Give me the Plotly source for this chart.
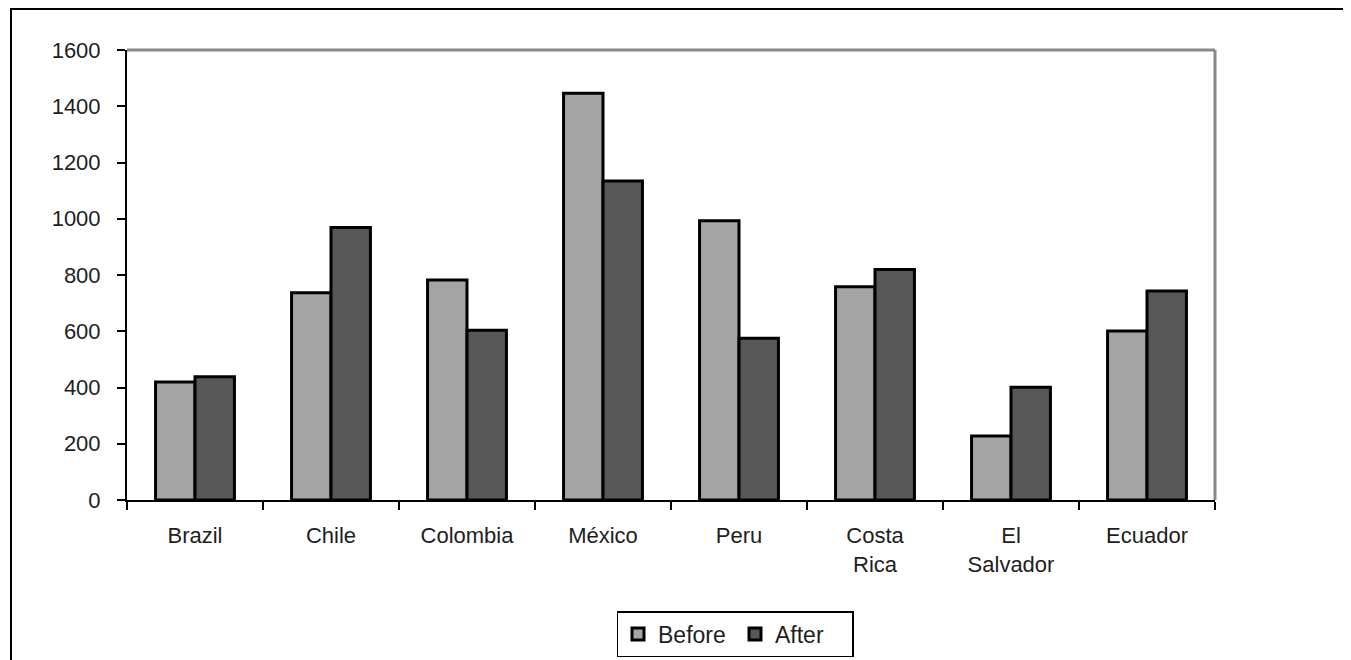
import plotly.graph_objects as go

categories = ["Brazil", "Chile", "Colombia", "México", "Peru", "Costa<br>Rica", "El<br>Salvador", "Ecuador"]
before = [420, 737, 782, 1446, 993, 758, 228, 601]
after = [438, 969, 604, 1134, 575, 820, 401, 743]
y_ticks = [0, 200, 400, 600, 800, 1000, 1200, 1400, 1600]

# page has an 8px body margin; figure coordinates = page coordinates - 8
# figure is made a little taller than the window so the legend does not push the margins
OFF = 8
W, H = 1351 - OFF, 680 - OFF
L, T = 127 - OFF, 50 - OFF
R = W - (1215 - OFF)
B = H - (500 - OFF)
pw, ph = W - L - R, H - T - B

def px_x(p):
    return (p - OFF - L) / pw

def px_y(p):
    return (H - B - (p - OFF)) / ph

font_fam = "Liberation Sans, Arial, sans-serif"
txt = "#1e1e1e"

fig = go.Figure()
fig.add_trace(go.Bar(name="Before", x=categories, y=before,
                     marker=dict(color="#a4a4a4", line=dict(color="black", width=3))))
fig.add_trace(go.Bar(name="After", x=categories, y=after,
                     marker=dict(color="#575757", line=dict(color="black", width=3))))

fig.update_layout(
    width=W, height=H,
    margin=dict(l=L, r=R, t=T, b=B, pad=0),
    paper_bgcolor="white", plot_bgcolor="white",
    barmode="group", bargap=0.42, bargroupgap=0,
    font=dict(family=font_fam, size=22, color=txt),
    showlegend=True,
    legend=dict(orientation="h",
                x=px_x(735), xanchor="center",
                y=px_y(611), yanchor="top",
                bordercolor="black", borderwidth=1.5, bgcolor="white",
                font=dict(size=23, color=txt), itemwidth=30, tracegroupgap=0,
                entrywidth=72, entrywidthmode="pixels",
                traceorder="normal"),
    xaxis=dict(showline=True, linecolor="black", linewidth=2, ticks="outside",
               tickson="boundaries", ticklen=8, tickwidth=2, tickcolor="black",
               showgrid=False, zeroline=False, tickfont=dict(size=22),
               ticklabelstandoff=15),
    yaxis=dict(range=[0, 1600], tickvals=y_ticks, showline=True, linecolor="black",
               linewidth=2, ticks="outside", ticklen=8, tickwidth=2, tickcolor="black",
               showgrid=False, zeroline=False, tickfont=dict(size=22),
               ticklabelstandoff=12),
    shapes=[
        dict(type="line", xref="paper", yref="paper", x0=0, x1=1, y0=1, y1=1,
             line=dict(color="#888888", width=3)),
        dict(type="line", xref="paper", yref="paper", x0=1, x1=1, y0=0, y1=1,
             line=dict(color="#888888", width=3)),
        dict(type="rect", xref="paper", yref="paper",
             x0=px_x(11), x1=px_x(1351 + 20), y0=px_y(680 + 20), y1=px_y(9),
             line=dict(color="black", width=2), layer="below"),
    ],
)

fig.write_html("out.html")
